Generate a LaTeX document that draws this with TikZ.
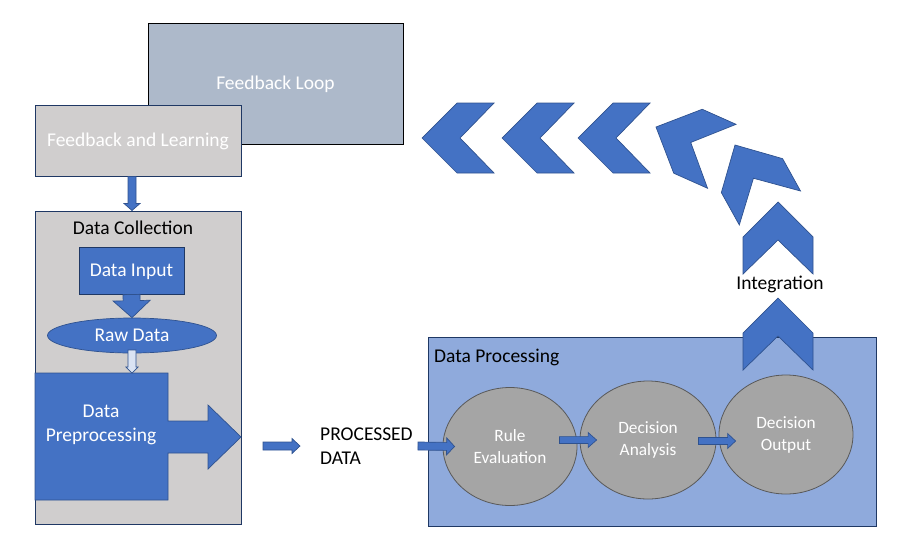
\documentclass[tikz,border=0pt]{standalone}
\usepackage{fontspec}
\setmainfont{Carlito}
\usetikzlibrary{shapes.geometric,calc}
\definecolor{mainblue}{HTML}{4472C4}
\definecolor{edgeblue}{HTML}{2F528F}
\definecolor{boxedge}{HTML}{1F3864}
\definecolor{panelgray}{HTML}{D0CECE}
\definecolor{loopgray}{HTML}{ADB9CA}
\definecolor{panelblue}{HTML}{8FAADC}
\definecolor{ballgray}{HTML}{A5A5A5}
\definecolor{balledge}{HTML}{595959}
\definecolor{paleblue}{HTML}{DAE3F3}
\newcommand{\bigtxt}{\fontsize{19.5}{24}\selectfont}
\newcommand{\smalltxt}{\fontsize{17.3}{22}\selectfont}
\tikzset{
  box/.style={draw=boxedge, line width=1pt, inner sep=0pt},
  oneline/.style={text height=17.5pt, text depth=4.9pt, inner sep=0pt},
  blk/.style={draw=edgeblue, fill=mainblue, line width=0.7pt},
  ball/.style={ellipse, draw=balledge, fill=ballgray, line width=0.8pt, text=white, align=center, inner sep=0pt, font=\smalltxt},
  blockarrow/.style n args={3}{to path={
      ($(\tikztostart)!#1!90:(\tikztotarget)$)
      -- ($(\tikztotarget)!#3!(\tikztostart)!#1!-90:(\tikztostart)$)
      -- ($(\tikztotarget)!#3!(\tikztostart)!#2!-90:(\tikztostart)$)
      -- (\tikztotarget)
      -- ($(\tikztotarget)!#3!(\tikztostart)!#2!90:(\tikztostart)$)
      -- ($(\tikztotarget)!#3!(\tikztostart)!#1!90:(\tikztostart)$)
      -- ($(\tikztostart)!#1!-90:(\tikztotarget)$) -- cycle}}
}
\begin{document}
\begin{tikzpicture}[x=1pt, y=-1pt, font=\bigtxt]
    \useasboundingbox (0,0) rectangle (912,555);
    \node[box, oneline, draw=black, fill=loopgray, minimum width=255pt, minimum height=121pt, text=white] (loop) at (275.5,83.5) {Feedback Loop};
    \node[box, oneline, fill=panelgray, minimum width=206pt, minimum height=71pt, text=white] (learn) at (138,140.5) {Feedback and Learning};
    \node[box, fill=panelgray, minimum width=206pt, minimum height=313pt] (collect) at (138,367.5) {};
    \node[oneline] (collecttitle) at (133,228) {Data Collection};
    \draw[blk] ([xshift=-6pt]learn.south) to[blockarrow={4pt}{8pt}{7pt}] ([xshift=-6pt]collect.north);

    \node[box, oneline, fill=mainblue, minimum width=105pt, minimum height=47pt, text=white] (input) at (131.5,270.5) {Data Input};
    \node[ellipse, oneline, draw=edgeblue, fill=mainblue, line width=0.7pt, minimum width=169pt, minimum height=35pt, text=white] (raw) at (132,335.5) {Raw Data};
    \draw[blk] (input.south) to[blockarrow={8.5pt}{18.5pt}{17pt}] (raw.north);

    \draw[blk] (35,373) -- (168,373) -- (168,421) -- (208,421) -- (208,405) -- (241,437)
        -- (208,469) -- (208,453) -- (168,453) -- (168,500) -- (35,500) -- cycle;
    \node[text=white, align=center, inner sep=0pt] (prep) at (101,425) {Data\\Preprocessing};
    \coordinate (rawout) at (132,350);
    \coordinate (preptop) at (132,373);
    \draw[blk, fill=paleblue] (rawout) to[blockarrow={4pt}{6pt}{6pt}] (preptop);

    \coordinate (prepout) at (263,446);
    \coordinate (processedin) at (300,446);
    \draw[blk] (prepout) to[blockarrow={4pt}{7.5pt}{8pt}] (processedin);
    \node[align=left, anchor=west, inner sep=0pt] (processed) at (320,446) {PROCESSED\\DATA};

    \node[box, fill=panelblue, minimum width=448pt, minimum height=189pt] (proc) at (652,431.5) {};
    \node[oneline, anchor=west] (proctitle) at (434,356) {Data Processing};
    \node[ball, minimum width=134pt, minimum height=118pt] (evalball) at (510,446.5) {Rule\\Evaluation};
    \node[ball, minimum width=136pt, minimum height=118pt] (analysisball) at (648,440) {Decision\\Analysis};
    \node[ball, minimum width=134pt, minimum height=119pt] (outputball) at (786,434.5) {Decision\\Output};
    \coordinate (procout) at (418,446);
    \draw[blk] (procout) to[blockarrow={4pt}{8.5pt}{8pt}] ([xshift=12pt]evalball.west);
    \draw[blk] ($(evalball.east)+(-18,-6.5)$) to[blockarrow={3.4pt}{7.5pt}{8.5pt}] ($(analysisball.west)+(17,0)$);
    \draw[blk] ($(analysisball.east)+(-18,1)$) to[blockarrow={3.5pt}{7.5pt}{8pt}] ($(outputball.west)+(17,6.5)$);

    \foreach \cx/\cy/\ang in {422/138/90, 502/138/90, 578/138/90, 656/127/66, 735/145/29, 778/202/0, 778/298/0}
        \draw[blk, shift={(\cx,\cy)}, rotate=\ang] (0,0) -- (35,35) -- (35,72) -- (0,38) -- (-35,72) -- (-35,35) -- cycle;
    \node[oneline] (integration) at (780,283) {Integration};
\end{tikzpicture}
\end{document}
